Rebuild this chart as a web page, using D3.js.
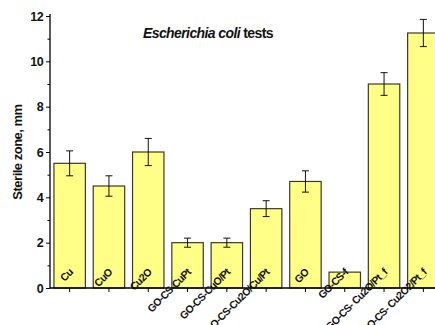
<!DOCTYPE html>
<html>
<head>
<meta charset="utf-8">
<script src="https://cdn.jsdelivr.net/npm/d3@7"></script>
<style>
  body { margin: 0; background: #fff; }
  svg { display: block; font-family: "Liberation Sans", Arial, sans-serif; }
</style>
</head>
<body>
<svg id="chart" width="435" height="325"></svg>
<script>
const categories = ['Cu', 'CuO', 'Cu2O', 'GO-CS-CuPt', 'GO-CS-CuO/Pt', 'GO-CS-Cu2O/Cu/Pt',
  'GO', 'GO-CS-f', 'GO-CS- Cu2O/Pt_f', 'GO-CS- Cu2O2/Pt_f'];
const values = [5.5, 4.5, 6.0, 2.0, 2.0, 3.5, 4.7, 0.7, 9.0, 11.25];
const errors = [0.55, 0.45, 0.6, 0.2, 0.2, 0.35, 0.47, 0, 0.5, 0.6];
const yTicks = [0, 2, 4, 6, 8, 10, 12];
const yMinor = [1, 3, 5, 7, 9, 11];

const svg = d3.select('#chart');

const x = d3.scaleBand()
  .domain(categories)
  .range([50, 443])
  .paddingInner(0.2)
  .paddingOuter(0.1);
const y = d3.scaleLinear().domain([0, 12]).range([288, 16]);

const data = categories.map((c, i) => ({ c, v: values[i], e: errors[i] }));

// bars
svg.selectAll('rect.bar')
  .data(data)
  .enter()
  .append('rect')
  .attr('class', 'bar')
  .attr('x', d => x(d.c))
  .attr('y', d => y(d.v))
  .attr('width', x.bandwidth())
  .attr('height', d => y(0) - y(d.v))
  .style('fill', '#ffff88')
  .style('stroke', '#3a3a2a')
  .style('stroke-width', 1.2);

// error bars
const eb = svg.selectAll('g.err')
  .data(data.filter(d => d.e > 0))
  .enter()
  .append('g')
  .attr('class', 'err')
  .style('stroke', '#111')
  .style('stroke-width', 1);
eb.append('line')
  .attr('x1', d => x(d.c) + x.bandwidth() / 2)
  .attr('x2', d => x(d.c) + x.bandwidth() / 2)
  .attr('y1', d => y(d.v + d.e))
  .attr('y2', d => y(d.v - d.e));
eb.selectAll('line.cap')
  .data(d => [[d, d.v + d.e], [d, d.v - d.e]])
  .enter()
  .append('line')
  .attr('class', 'cap')
  .attr('x1', p => x(p[0].c) + x.bandwidth() / 2 - 3.5)
  .attr('x2', p => x(p[0].c) + x.bandwidth() / 2 + 3.5)
  .attr('y1', p => y(p[1]))
  .attr('y2', p => y(p[1]));

// left axis
const yAxis = svg.append('g')
  .attr('transform', 'translate(50,0)')
  .call(d3.axisLeft(y).tickValues(yTicks).tickSize(4).tickPadding(3).tickFormat(d3.format('d')));
svg.append('g')
  .attr('transform', 'translate(50,0)')
  .call(d3.axisLeft(y).tickValues(yMinor).tickSize(2.5).tickFormat(''))
  .select('.domain').remove();
yAxis.select('.domain').attr('d', `M0,${y(12) - 2}V${y(0)}`).style('stroke-width', 1.3);
yAxis.selectAll('text')
  .style('font-size', '12.5px')
  .style('font-weight', 'bold')
  .style('letter-spacing', '-0.6px')
  .style('fill', '#111');

// bottom axis
const xAxis = svg.append('g')
  .attr('transform', `translate(0,${y(0)})`)
  .call(d3.axisBottom(x).tickSize(4).tickFormat(''));
xAxis.select('.domain').attr('d', `M50,0H435`).style('stroke-width', 1.3);

// category labels, rotated
svg.selectAll('text.cat')
  .data(categories)
  .enter()
  .append('text')
  .attr('class', 'cat')
  .attr('transform', d => `translate(${x(d) + x.bandwidth() / 2 + 4},273) rotate(-45)`)
  .attr('text-anchor', 'end')
  .style('font-size', '10.5px')
  .style('font-weight', 'bold')
  .style('letter-spacing', '-0.6px')
  .style('fill', '#111')
  .text(d => d);

// y label
svg.append('text')
  .attr('transform', 'translate(22,152) rotate(-90)')
  .attr('text-anchor', 'middle')
  .style('font-size', '13px')
  .style('font-weight', 'bold')
  .style('letter-spacing', '-0.5px')
  .style('fill', '#111')
  .text('Sterile zone, mm');

// title
const title = svg.append('text')
  .attr('x', 143)
  .attr('y', 38)
  .style('font-size', '14px')
  .style('font-weight', 'bold')
  .style('letter-spacing', '-0.6px')
  .style('fill', '#111');
title.append('tspan').style('font-style', 'italic').text('Escherichia coli');
title.append('tspan').text(' tests');
</script>
</body>
</html>
